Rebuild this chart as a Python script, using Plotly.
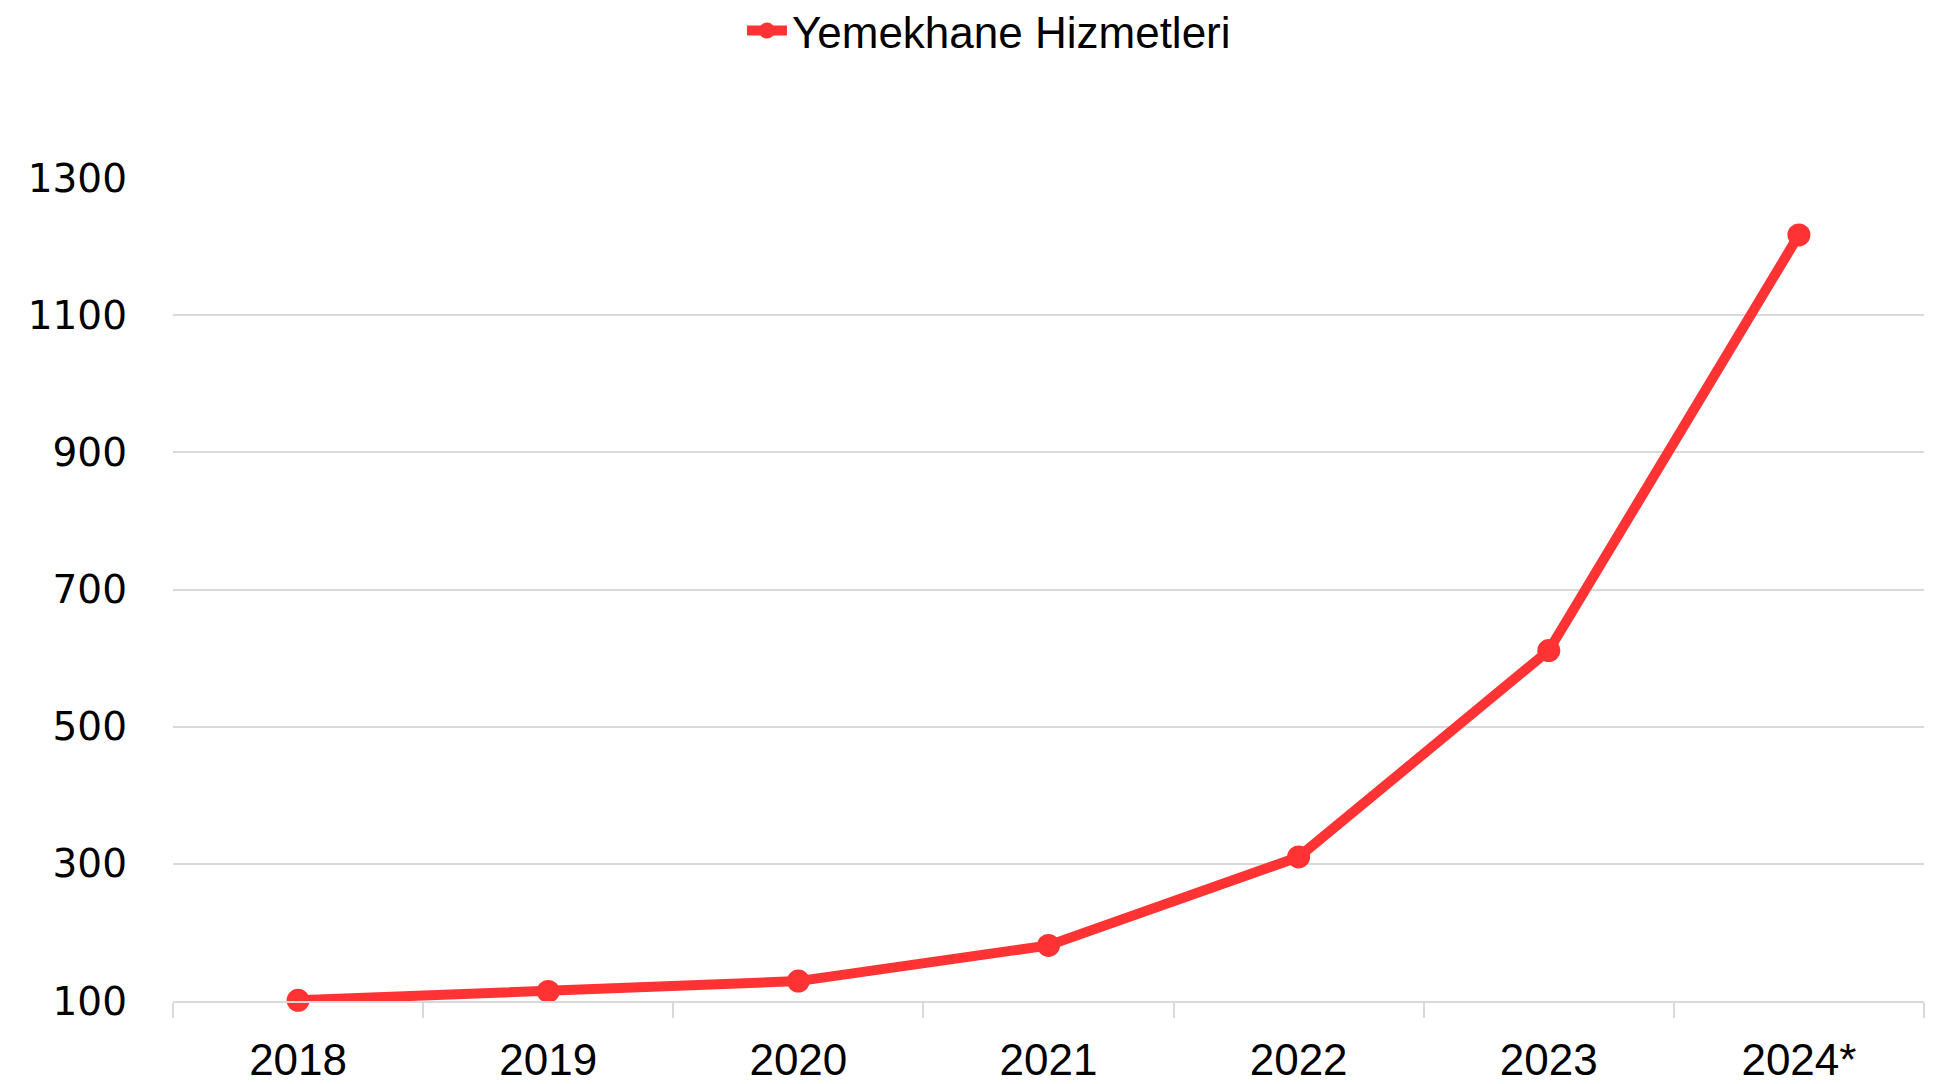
import plotly.graph_objects as go

years = ["2018", "2019", "2020", "2021", "2022", "2023", "2024*"]
values = [101, 114, 129, 181, 310, 611, 1217]
series_name = "Yemekhane Hizmetleri"
y_ticks = [100, 300, 500, 700, 900, 1100, 1300]

# page body has an 8px margin, so the figure is drawn from (8, 8)
W, H = 1928, 1076
L, R, T, B = 165, 12, 170, 83
plot_h = H - T - B

fig = go.Figure()
fig.add_trace(go.Scatter(
    x=years, y=values, name=series_name, mode="lines+markers",
    line=dict(color="#FF3333", width=10),
    marker=dict(color="#FF3333", size=23),
    cliponaxis=False,
))

fig.update_layout(
    width=W, height=H,
    margin=dict(l=L, r=R, t=T, b=B, pad=0, autoexpand=False),
    paper_bgcolor="white", plot_bgcolor="white",
    showlegend=True,
    legend=dict(
        orientation="h", x=0.466, xanchor="center",
        y=1 + (T - 23) / plot_h, yanchor="middle",
        font=dict(family="Liberation Sans", size=44, color="black"),
        itemwidth=40, bgcolor="rgba(0,0,0,0)",
    ),
    xaxis=dict(
        type="category", range=[-0.5, 6.5], automargin=False,
        showgrid=False, showline=True, linecolor="#D9D9D9", linewidth=2,
        ticks="outside", tickson="boundaries", ticklen=15, tickcolor="#D9D9D9", tickwidth=2,
        tickfont=dict(family="Liberation Sans", size=44, color="black"),
        ticklabelstandoff=19,
    ),
    yaxis=dict(
        range=[100, 1300], tickmode="array", tickvals=y_ticks, automargin=False,
        ticktext=[str(v) for v in y_ticks],
        showgrid=True, gridcolor="#D9D9D9", gridwidth=1.5,
        showline=False, zeroline=False, ticks="",
        tickfont=dict(family="DejaVu Sans", size=39, color="black"),
        ticklabelstandoff=45,
    ),
)

fig.write_html("out.html")
